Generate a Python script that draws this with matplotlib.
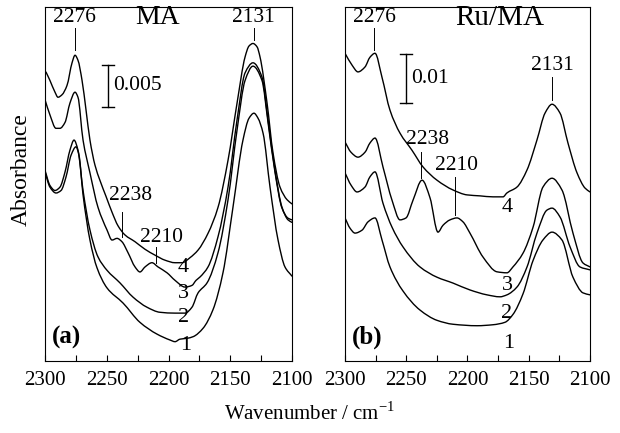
import numpy as np
import matplotlib
matplotlib.use("Agg")
import matplotlib.pyplot as plt
import matplotlib.transforms as mtransforms
from matplotlib.path import Path
from matplotlib.patches import PathPatch

plt.rcParams['font.family'] = ['Liberation Serif', 'DejaVu Serif']
plt.rcParams['mathtext.fontset'] = 'custom'
plt.rcParams['mathtext.rm'] = 'Liberation Serif'

# ---------------- panel (a): MA ----------------
wn_a1 = [2300, 2296, 2291.1, 2287, 2283, 2278.9, 2274.9, 2272.5, 2269.2, 2263.6, 2257.9,
         2249.8, 2236.8, 2223.1, 2209.3, 2198.8, 2194.7, 2190.7, 2185, 2180, 2172, 2164,
         2155.9, 2147.8, 2139.7, 2134.8, 2130.8, 2127.5, 2123.4, 2117.8, 2111.3, 2105.7, 2100]
abs_a1 = [0.0225, 0.0207, 0.0200, 0.0203, 0.0219, 0.0245, 0.0255, 0.0245, 0.0198, 0.0144, 0.0111,
          0.0087, 0.0069, 0.0046, 0.0032, 0.0025, 0.0023, 0.0026, 0.0027, 0.0029, 0.0039, 0.0061,
          0.0105, 0.0183, 0.0263, 0.0289, 0.0295, 0.0289, 0.0271, 0.0207, 0.0144, 0.0112, 0.0101]

wn_a2 = [2300, 2296, 2291.9, 2287.9, 2283.8, 2279.8, 2276.5, 2273.3, 2269.2, 2263.6, 2257.1,
         2249.8, 2239.3, 2228.7, 2217.4, 2206.9, 2194.7, 2186.6, 2181, 2176.1, 2168.8, 2159.9,
         2151.8, 2144.5, 2138, 2131.6, 2124.3, 2119.4, 2113.8, 2108.1, 2103.2, 2100]
abs_a2 = [0.0227, 0.0209, 0.0203, 0.0207, 0.0225, 0.0251, 0.0263, 0.0251, 0.0203, 0.0156, 0.0124,
          0.0108, 0.0093, 0.0076, 0.0064, 0.0058, 0.0057, 0.0057, 0.0064, 0.0081, 0.0093, 0.0129,
          0.0192, 0.0275, 0.0334, 0.0351, 0.0334, 0.0284, 0.0225, 0.0182, 0.0170, 0.0168]

wn_a3 = [2300, 2296, 2291.1, 2287.9, 2283.8, 2279.8, 2275.7, 2273.3, 2269.2, 2263.6, 2257.1,
         2249.8, 2245.7, 2241.7, 2237.7, 2232.8, 2227.1, 2223.1, 2219, 2213.4, 2208.5, 2201.2,
         2194.7, 2186.6, 2181, 2177.7, 2174.5, 2168, 2159.9, 2151.8, 2144.5, 2138, 2131.6,
         2124.3, 2119.4, 2113.8, 2108.1, 2103.2, 2100]
abs_a3 = [0.0311, 0.0293, 0.0277, 0.0277, 0.0284, 0.0307, 0.0320, 0.0314, 0.0263, 0.0224, 0.0183,
          0.0156, 0.0144, 0.0146, 0.0142, 0.0129, 0.0112, 0.0106, 0.0112, 0.0117, 0.0112, 0.0105,
          0.0096, 0.0088, 0.0090, 0.0096, 0.0100, 0.0112, 0.0148, 0.0207, 0.0287, 0.0343, 0.0355,
          0.0338, 0.0287, 0.0227, 0.0183, 0.0168, 0.0165]

wn_a4 = [2299.2, 2296, 2291.9, 2289.5, 2286.2, 2282.2, 2278.1, 2275.7, 2273.3, 2270, 2266.8,
         2263.6, 2259.5, 2255.5, 2250.6, 2245.7, 2240.9, 2235.2, 2227.1, 2219, 2210.9, 2202.8,
         2194.7, 2189, 2182.6, 2176.1, 2168, 2159.9, 2151.8, 2144.5, 2138, 2134.8, 2131.6,
         2128.3, 2125.9, 2120.2, 2115.4, 2109.7, 2104, 2100]
abs_a4 = [0.0344, 0.0334, 0.0320, 0.0314, 0.0317, 0.0328, 0.0355, 0.0364, 0.0358, 0.0334, 0.0299,
          0.0263, 0.0233, 0.0215, 0.0196, 0.0177, 0.0161, 0.0150, 0.0142, 0.0133, 0.0126, 0.0120,
          0.0117, 0.0117, 0.0123, 0.0132, 0.0152, 0.0183, 0.0239, 0.0307, 0.0362, 0.0375, 0.0378,
          0.0374, 0.0362, 0.0307, 0.0248, 0.0207, 0.0192, 0.0187]

# ---------------- panel (b): Ru/MA ----------------
wn_b1 = [2300, 2295.9, 2291.8, 2286.1, 2281.2, 2275.5, 2269.8, 2263.3, 2252.7, 2238.8, 2224.9,
         2211.8, 2192.2, 2179.2, 2169.4, 2162.9, 2154.7, 2146.5, 2138.4, 2131, 2122.9, 2113.9,
         2105.7, 2100]
abs_b1 = [0.0292, 0.0271, 0.0261, 0.0267, 0.0284, 0.0292, 0.0247, 0.0192, 0.0143, 0.0104, 0.0083,
          0.0075, 0.0072, 0.0074, 0.0079, 0.0095, 0.0137, 0.0205, 0.0247, 0.0263, 0.0247, 0.0171,
          0.0139, 0.0135]

wn_b2 = [2300, 2295.1, 2290.2, 2283.7, 2279.6, 2275.5, 2269, 2261.6, 2252.7, 2238.8, 2224.9,
         2211.8, 2198, 2184.1, 2173.5, 2167.8, 2159.6, 2151.4, 2143.3, 2135.1, 2131, 2124.5,
         2116.3, 2108.2, 2100]
abs_b2 = [0.0384, 0.0359, 0.0345, 0.0355, 0.0376, 0.0386, 0.0322, 0.0273, 0.0233, 0.0192, 0.0171,
          0.0159, 0.0145, 0.0135, 0.0131, 0.0135, 0.0151, 0.0192, 0.0261, 0.0308, 0.0312, 0.0294,
          0.0233, 0.0192, 0.0186]

wn_b3 = [2300, 2295.1, 2289.4, 2283.7, 2279.6, 2275.5, 2269, 2261.6, 2255.1, 2250.2, 2244.5,
         2237.1, 2230.6, 2224.1, 2220, 2214.3, 2208.6, 2203.7, 2198, 2187.3, 2175.9, 2167.8,
         2162.9, 2154.7, 2146.5, 2138.4, 2131, 2122.9, 2113.9, 2105.7, 2100]
abs_b3 = [0.0447, 0.0426, 0.0416, 0.0426, 0.0445, 0.0455, 0.0396, 0.0328, 0.0288, 0.0292, 0.0328,
          0.0369, 0.0333, 0.0263, 0.0277, 0.0288, 0.0292, 0.0284, 0.0261, 0.0212, 0.0182, 0.0180,
          0.0192, 0.0220, 0.0273, 0.0355, 0.0373, 0.0349, 0.0261, 0.0200, 0.0192]

wn_b4 = [2300, 2294.3, 2289.4, 2283.7, 2279.6, 2275.5, 2269.8, 2263.3, 2255.1, 2245.3, 2236.3,
         2224.9, 2211.8, 2200.4, 2189.8, 2179.2, 2171, 2167.8, 2159.6, 2151.4, 2143.3, 2136.7,
         2131, 2124.5, 2118, 2110.6, 2104.1, 2100]
abs_b4 = [0.0628, 0.0604, 0.0590, 0.0600, 0.0620, 0.0628, 0.0579, 0.0512, 0.0465, 0.0430, 0.0396,
          0.0369, 0.0349, 0.0339, 0.0337, 0.0335, 0.0335, 0.0343, 0.0355, 0.0390, 0.0451, 0.0506,
          0.0524, 0.0506, 0.0445, 0.0384, 0.0353, 0.0345]

curve_labels = ['1', '2', '3', '4']
peak_labels = ['2276', '2238', '2210', '2131']
xticks_major = [2300, 2250, 2200, 2150, 2100]
xticks_minor = [2275, 2225, 2175, 2125]


def spectrum_path(x, y):
    """Smooth Bezier path through the measured points (monotone cubic tangents)."""
    x = np.asarray(x, float)
    y = np.asarray(y, float)
    h = np.diff(x)
    d = np.diff(y) / h
    m = np.empty_like(y)
    m[0], m[-1] = d[0], d[-1]
    for k in range(1, len(y) - 1):
        if d[k - 1] * d[k] <= 0:
            m[k] = 0.0
        else:
            w1 = 2 * abs(h[k]) + abs(h[k - 1])
            w2 = abs(h[k]) + 2 * abs(h[k - 1])
            m[k] = (w1 + w2) / (w1 / d[k - 1] + w2 / d[k])
    verts = [(x[0], y[0])]
    codes = [Path.MOVETO]
    for k in range(len(x) - 1):
        verts += [(x[k] + h[k] / 3, y[k] + m[k] * h[k] / 3),
                  (x[k + 1] - h[k] / 3, y[k + 1] - m[k + 1] * h[k] / 3),
                  (x[k + 1], y[k + 1])]
        codes += [Path.CURVE4] * 3
    return Path(verts, codes)


fig = plt.figure(figsize=(6.2, 4.33), dpi=100)

H = 433.0
def frac(y):
    return (361.0 - y) / 354.0

ax_a = fig.add_axes([45 / 620, (H - 361) / H, 247 / 620, 354 / H])
ax_b = fig.add_axes([345 / 620, (H - 361) / H, 245 / 620, 354 / H])

LW = 1.0
for ax, ymax, curves in [
        (ax_a, 354 * 0.005 / 42, [(wn_a1, abs_a1), (wn_a2, abs_a2), (wn_a3, abs_a3), (wn_a4, abs_a4)]),
        (ax_b, 354 * 0.01 / 49, [(wn_b1, abs_b1), (wn_b2, abs_b2), (wn_b3, abs_b3), (wn_b4, abs_b4)])]:
    for wn, ab in curves:
        ax.add_patch(PathPatch(spectrum_path(wn, ab), facecolor='none', edgecolor='black',
                               lw=LW, joinstyle='round', capstyle='round'))
    ax.set_xlim(2300, 2100)
    ax.set_ylim(0, ymax)
    ax.set_xticks(xticks_major)
    ax.set_xticks(xticks_minor, minor=True)
    ax.set_yticks([])
    ax.tick_params(axis='x', which='both', direction='in', length=4.5, width=0.8,
                   top=False, labelsize=15, pad=7)
    for s in ax.spines.values():
        s.set_linewidth(0.8)

FS_PEAK = 15.5
FS_NUM = 16

def mark(ax, wn, label, ytext, y0, y1, xtext=None):
    tr = mtransforms.blended_transform_factory(ax.transData, ax.transAxes)
    ax.plot([wn, wn], [frac(y0), frac(y1)], color='black', lw=0.7, transform=tr)
    ax.text(wn if xtext is None else xtext, frac(ytext), label, transform=tr,
            ha='center', va='center', fontsize=FS_PEAK)

def put(ax, wn, y, s, **kw):
    tr = mtransforms.blended_transform_factory(ax.transData, ax.transAxes)
    ax.text(wn, frac(y), s, transform=tr, **kw)

# peak markers, panel (a)
mark(ax_a, 2276, peak_labels[0], 17, 28, 50)
mark(ax_a, 2131, peak_labels[3], 17, 28, 40)
mark(ax_a, 2238, peak_labels[1], 195, 212, 237, xtext=2230.4)
mark(ax_a, 2210, peak_labels[2], 237, 247, 263, xtext=2206)
put(ax_a, 2208.5, 18, 'MA', ha='center', va='center', fontsize=20)

# peak markers, panel (b)
mark(ax_b, 2276, peak_labels[0], 17, 28, 50)
mark(ax_b, 2131, peak_labels[3], 66, 77, 100)
mark(ax_b, 2238, peak_labels[1], 140, 152, 178, xtext=2233)
mark(ax_b, 2210, peak_labels[2], 165, 177, 215, xtext=2209)
put(ax_b, 2174, 18, 'Ru/MA', ha='center', va='center', fontsize=21)

# curve numbers
for lab, (w, y) in zip(curve_labels, [(2185.8, 345), (2187.5, 318), (2188.3, 294), (2188.3, 268)]):
    put(ax_a, w, y, lab, ha='center', va='center', fontsize=FS_NUM)
for lab, (w, y) in zip(curve_labels, [(2166.1, 343), (2167.8, 314), (2167.8, 285), (2167.8, 208)]):
    put(ax_b, w, y, lab, ha='center', va='center', fontsize=FS_NUM)

# panel letters
put(ax_a, 2294.3, 337, '(a)', ha='left', va='center', fontsize=18, fontweight='bold')
put(ax_b, 2294.3, 337, '(b)', ha='left', va='center', fontsize=18, fontweight='bold')

# scale bars
def scalebar(ax, wn, ybot, size, label):
    ax.plot([wn, wn], [ybot, ybot + size], color='black', lw=1.0)
    for yy in (ybot, ybot + size):
        ax.plot([wn - 5, wn + 5], [yy, yy], color='black', lw=1.0)
    ax.text(wn - 4, ybot + size / 2, label, ha='left', va='center', fontsize=FS_PEAK)

scalebar(ax_a, 2249, 254 * 0.005 / 42, 0.005, '0.005')
scalebar(ax_b, 2250.2, 258 * 0.01 / 49, 0.01, '0.01')

fig.text(21 / 620, 1 - 170 / H, 'Absorbance', rotation=90, ha='center', va='center', fontsize=17)
fig.text(310 / 620, 1 - 413 / H, 'Wavenumber / cm$^{-1}$', ha='center', va='center', fontsize=15)

fig.savefig('out.png', dpi=100)
